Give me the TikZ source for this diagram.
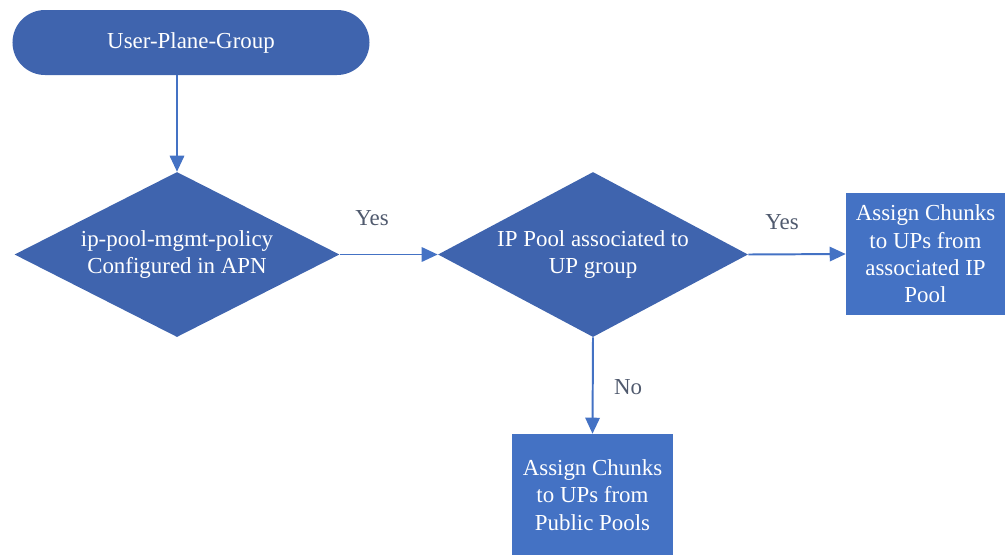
\documentclass[tikz,border=0pt]{standalone}
\usepackage{fontspec}
\setmainfont{Liberation Serif}
\usepackage{tikz}
\usetikzlibrary{shapes.geometric, shapes.misc, arrows.meta, positioning}

\definecolor{shapeblue}{RGB}{63,100,174}
\definecolor{boxblue}{RGB}{68,114,196}
\definecolor{lineblue}{RGB}{68,114,196}
\definecolor{labelgray}{RGB}{80,90,110}

\tikzset{
  term/.style={rounded rectangle, fill=shapeblue, text=white,
    minimum width=8.925cm, minimum height=1.625cm, inner sep=0pt},
  decision/.style={diamond, fill=shapeblue, text=white, align=center,
    inner sep=0pt},
  action/.style={rectangle, fill=boxblue, text=white, align=center,
    minimum width=4cm, minimum height=3.05cm, inner sep=0pt},
  flow/.style={draw=lineblue, line width=1.4pt,
    -{Triangle[length=0.4cm, width=0.36cm]}},
  answer/.style={text=labelgray}
}

\begin{document}
\begin{tikzpicture}[font=\fontsize{16.3}{19.5}\selectfont]
  \useasboundingbox (0,0) rectangle (25.175,-13.85);

  % start
  \node[term] (upg) at (4.775,-1.0625) {User-Plane-Group};

  % decisions
  \node[decision, aspect=1.97, minimum width=8.125cm, minimum height=4.125cm]
    (policy) at (4.425,-6.3625) {ip-pool-mgmt-policy\\Configured in APN};
  \node[decision, aspect=1.88, minimum width=7.75cm, minimum height=4.125cm]
    (assoc) at (14.825,-6.3625) {IP Pool associated to\\UP group};

  % actions
  \node[action, minimum width=3.975cm] (fromassoc) at (23.1375,-6.35)
    {Assign Chunks\\to UPs from\\associated IP\\Pool};
  \node[action, minimum width=4.025cm] (frompublic) at (14.8125,-12.375)
    {Assign Chunks\\to UPs from\\Public Pools};

  % connectors
  \draw[flow] (upg.south -| policy.north) -- (policy.north);
  \draw[flow] (policy.east) -- (assoc.west);
  \draw[flow] (assoc.east) -- (fromassoc.west);
  \draw[flow] (assoc.south) -- (frompublic.north);

  % answers
  \node[answer] (yesone) at (9.3,-5.45) {Yes};
  \node[answer] (yestwo) at (19.55,-5.55) {Yes};
  \node[answer] (no) at (15.7,-9.675) {No};

\end{tikzpicture}
\end{document}
